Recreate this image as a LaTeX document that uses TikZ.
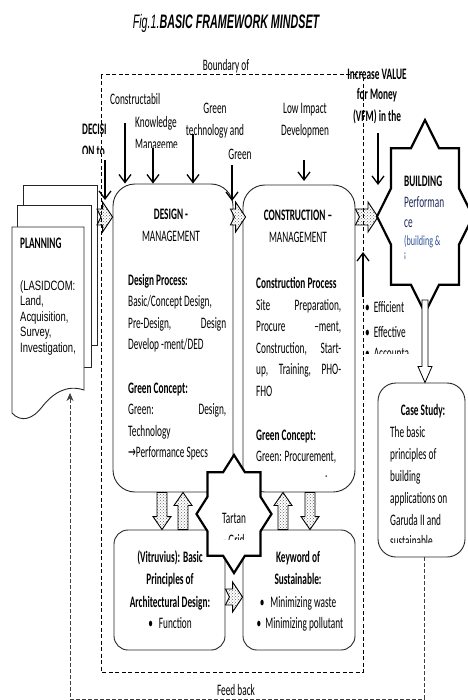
\documentclass[tikz,border=0pt]{standalone}
\usepackage{fontspec}
\setmainfont{Carlito}[FakeStretch=0.58]
\newfontfamily\titlefont{Liberation Sans}[FakeStretch=0.55]
\newfontfamily\planfont{Liberation Sans}[FakeStretch=0.7]
\newfontfamily\arrfont{DejaVu Sans}[FakeStretch=0.58]
\usetikzlibrary{arrows.meta,patterns,calc}
\definecolor{navy}{HTML}{1F2A5C}
\definecolor{blu}{HTML}{2F5597}

\newcommand\hchev[2]{%
 \path[chev] let \p1=(#1), \p2=(#2) in
 (\x1,\y1+8pt) -- (\x2-10pt,\y1+8pt) -- (\x2-10pt,\y1+15pt) -- (\x2,\y1)
 -- (\x2-10pt,\y1-15pt) -- (\x2-10pt,\y1-8pt) -- (\x1,\y1-8pt) -- (\x1+4pt,\y1) -- cycle;}
\newcommand\vchev[2]{%
 \path[chev] let \p1=(#1), \p2=(#2), \n1={(\y2>\y1)?1:-1} in
 (\x1-5pt,\y1) -- (\x1-5pt,\y2-\n1*13pt) -- (\x1-9pt,\y2-\n1*13pt) -- (\x1,\y2)
 -- (\x1+9pt,\y2-\n1*13pt) -- (\x1+5pt,\y2-\n1*13pt) -- (\x1+5pt,\y1) -- cycle;}
\newcommand\octastar[4]{%
 \begin{scope}[shift={(#1,#2)}, xscale=#3, yscale=#4]
 \path[starline] (0:1) \foreach \k in {1,...,15}{ -- ({22.5*\k}:{1-0.235*mod(\k,2)})} -- cycle;
 \end{scope}}

\begin{document}
\begin{tikzpicture}[x=1pt,y=-1pt,
  txt/.style={font=\fontsize{16}{21.5}\selectfont, inner sep=0pt, text=black},
  lbl/.style={txt, anchor=base west},
  lblc/.style={txt, anchor=base},
  plan/.style={font=\planfont\fontsize{13.5}{16}\selectfont, inner sep=0pt, anchor=base west},
  box/.style={draw=black!85, line width=0.9pt, fill=white, rounded corners=22pt, inner sep=0pt},
  sbox/.style={box, rounded corners=14pt},
  sheet/.style={draw=black!85, line width=0.9pt, fill=white},
  inarrow/.style={line width=1.3pt, -{Straight Barb[length=8pt,width=12pt,line width=1.3pt]}},
  chev/.style={draw=black, line width=0.9pt, preaction={fill=white}, pattern=crosshatch dots, pattern color=black!60},
  starline/.style={draw=black, line width=2.2pt, fill=white, line join=miter},
  bound/.style={dash pattern=on 4pt off 2.5pt, line width=1pt},
  fb/.style={dash pattern=on 4pt off 2pt, line width=0.8pt, black!75},
  hollow/.style={draw=black, line width=0.8pt, fill=white}]
\useasboundingbox[fill=white] (0,0) rectangle (467,700);

% title
\node[inner sep=0pt, anchor=base, font=\titlefont\fontsize{19.5}{22}\selectfont] (title) at (226,29)
  {\itshape Fig.1.\bfseries BASIC FRAMEWORK MINDSET};

% feedback loop
\coordinate (fbR) at (424,699);
\coordinate (fbL) at (70,699);
\coordinate (plB) at (70,393);

% planning sheets
\draw[sheet] (23,185) rectangle (97,345);
\draw[sheet] (17,205) rectangle (91,367);
\draw[sheet] (12,227) -- (84,227) -- (84,390) .. controls (66,384) and (52,394) .. (42,407)
  .. controls (33,419) and (21,423) .. (12,413) -- cycle;

% boxes
\node[box, minimum width=120, minimum height=308] (design) at (173,338) {};
\node[box, minimum width=112, minimum height=307] (cons) at (299,338.5) {};
\node[sbox, minimum width=111, minimum height=120] (vitr) at (169.5,590) {};
\node[sbox, minimum width=112, minimum height=120] (key) at (299,590) {};
\node[box, rounded corners=18pt, minimum width=87, minimum height=174] (case) at (421.5,470) {};

\draw[fb, -{Stealth[length=8pt,width=7pt]}] (fbR |- case.south) -- (fbR) -- (fbL) -- (plB);

% input arrows
\coordinate (a1) at (125,123);
\coordinate (a2) at (153,148);
\coordinate (a3) at (193,134);
\coordinate (a4) at (232,165); \coordinate (a4e) at (232,201);
\coordinate (a5) at (304,160); \coordinate (a5e) at (304,181);
\coordinate (a6) at (105,160); \coordinate (a6e) at (105,200);
\coordinate (a7) at (378,133); \coordinate (a7e) at (378,185);
\coordinate (a8) at (363,297); \coordinate (a8e) at (363,252);
\draw[inarrow] (a1) -- (a1 |- design.north);
\draw[inarrow] (a2) -- (a2 |- design.north);
\draw[inarrow] (a3) -- (a3 |- design.north);
\draw[inarrow] (a4) -- (a4e);
\draw[inarrow] (a5) -- (a5e);
\draw[inarrow] (a6) -- (a6e);
\draw[inarrow] (a7) -- (a7e);
\draw[inarrow] (a8) -- (a8e);

% chevrons
\coordinate (r1) at (97,217);
\coordinate (r2) at (355,217);
\coordinate (r3) at (225,597);
\coordinate (bL) at (378,217);
\hchev{r1}{design.west |- r1}
\hchev{[xshift=-3pt]design.east |- r1}{[xshift=3pt]cons.west |- r1}
\hchev{cons.east |- r2}{bL}
\hchev{vitr.east |- r3}{key.west |- r3}
\coordinate (v1) at (162,0); \coordinate (v2) at (183,0);
\coordinate (v3) at (283,0); \coordinate (v4) at (310,0);
\vchev{design.south -| v1}{vitr.north -| v1}
\vchev{vitr.north -| v2}{design.south -| v2}
\vchev{key.north -| v3}{cons.south -| v3}
\vchev{cons.south -| v4}{key.north -| v4}

% stars
\octastar{234}{514}{37.5}{59}
\octastar{425}{216.5}{48}{96.5}

% building -> case study hollow arrow
\coordinate (bS) at (425,300);
\path[hollow] let \p1=(bS), \p2=(bS |- case.north) in
  (\x1-3pt,\y1) -- (\x1-3pt,\y2+16pt) -- (\x1-7pt,\y2+16pt) -- (\x1,\y2)
  -- (\x1+7pt,\y2+16pt) -- (\x1+3pt,\y2+16pt) -- (\x1+3pt,\y1) -- cycle;

% boundary
\draw[bound] (101,75) rectangle (363,672);

% header labels
\node[lblc] (lbound) at (226,71) {Boundary of};
\node[lblc] (linc1) at (377,80) {\bfseries Increase VALUE};
\node[lblc] (linc2) at (377,100) {\bfseries for Money};
\node[lblc] (linc3) at (377,122) {\bfseries (VFM) in the};
\node[lbl] (lconst) at (110,105) {Constructabil};
\node[lbl] (lknow) at (135,128) {Knowledge};
\begin{scope}
\clip (130,135) rectangle (200,147.5);
\node[lbl] (lmgmt) at (135,150) {Manageme};
\end{scope}
\node[lblc] (lgreen1) at (215,114) {Green};
\node[lblc] (lgtech) at (215,136) {technology and};
\node[lblc] (lgreen2) at (240,160) {Green};
\node[lblc] (llow) at (305,114) {Low Impact};
\node[lblc] (ldev) at (305,136) {Developmen};
\node[lbl] (ldec1) at (82,135) {\bfseries DECISI};
\begin{scope}
\clip (78,140) rectangle (115,153.5);
\node[lbl] (ldec2) at (82,157) {\bfseries ON to};
\end{scope}

% planning text
\node[lbl] (pl0) at (20,248) {\bfseries PLANNING};
\node[plan] (pl1) at (20,290) {(LASIDCOM:};
\node[plan] (pl2) at (20,305.5) {Land,};
\node[plan] (pl3) at (20,321) {Acquisition,};
\node[plan] (pl4) at (20,336.5) {Survey,};
\node[plan] (pl5) at (20,352) {Investigation,};

% design text
\node[lblc] (dh1) at (171,220) {\bfseries DESIGN -};
\node[lblc] (dh2) at (171,242) {MANAGEMENT};
\node[lbl] (d1) at (128,285) {\bfseries Design Process:};
\node[lbl] (d2) at (128,306.5) {Basic/Concept Design,};
\node[lbl] (d3) at (128,328) {\makebox[98pt][s]{Pre-Design, Design}};
\node[lbl] (d4) at (128,349.5) {Develop -ment/DED};
\node[lbl] (d5) at (128,393) {\bfseries Green Concept:};
\node[lbl] (d6) at (128,414.5) {\makebox[98pt][s]{Green: Design,}};
\node[lbl] (d7) at (128,436) {Technology};
\node[lbl] (d8) at (128,457.5) {{\arrfont →}Performance Specs};

% construction text
\node[lblc] (ch1) at (298,221) {\bfseries CONSTRUCTION –};
\node[lblc] (ch2) at (298,243) {MANAGEMENT};
\node[lbl] (c1) at (256,288) {\bfseries Construction Process};
\node[lbl] (c2) at (256,310) {\makebox[85pt][s]{Site Preparation,}};
\node[lbl] (c3) at (256,331.5) {\makebox[85pt][s]{Procure –ment,}};
\node[lbl] (c4) at (256,353) {\makebox[85pt][s]{Construction, Start-}};
\node[lbl] (c5) at (256,374.5) {\makebox[85pt][s]{up, Training, PHO-}};
\node[lbl] (c6) at (256,396) {FHO};
\node[lbl] (c7) at (256,440) {\bfseries Green Concept:};
\node[lbl] (c8) at (256,461.5) {Green: Procurement,};
\node[lbl] (c9) at (325,477) {.};

% lower boxes text
\node[lblc] (vt1) at (170,562) {\bfseries (Vitruvius): Basic};
\node[lblc] (vt2) at (170,584) {\bfseries Principles of};
\node[lblc] (vt3) at (170,607) {\bfseries Architectural Design:};
\node[lblc] (vt4) at (170,628) {•\hspace{6pt}Function};
\node[lblc] (kt1) at (298,562) {\bfseries Keyword of};
\node[lblc] (kt2) at (298,584) {\bfseries Sustainable:};
\node[lblc] (kt3) at (298,607) {•\hspace{6pt}Minimizing waste};
\node[lblc] (kt4) at (300,628) {•\hspace{4pt}Minimizing pollutant};

% tartan text
\node[lblc] (tt1) at (234,523) {Tartan};
\begin{scope}
\clip (200,528) rectangle (270,539);
\node[lblc] (tt2) at (234,545) {- Grid};
\end{scope}

% building text
\node[lbl] (bt1) at (404,187) {\bfseries BUILDING};
\node[lbl, text=navy] (bt2) at (404,208) {Performan};
\node[lbl, text=navy] (bt3) at (404,228) {ce};
\node[lbl, text=blu, font=\fontsize{14}{16}\selectfont] (bt4) at (404,246) {(building \&};
\begin{scope}
\clip (400,250) rectangle (420,258.5);
\node[lbl, text=blu, font=\fontsize{14}{16}\selectfont] (bt5) at (404,262) {i};
\end{scope}

% bullets
\node[lbl] (e1) at (365,312) {•\hspace{4pt}Efficient};
\node[lbl] (e2) at (365,337) {•\hspace{4pt}Effective};
\begin{scope}
\clip (360,342) rectangle (420,353);
\node[lbl] (e3) at (365,358) {•\hspace{4pt}Accounta};
\end{scope}

% case study text
\node[lblc] (cs0) at (423,415) {\bfseries Case Study:};
\node[lbl] (cs1) at (390,437) {The basic};
\node[lbl] (cs2) at (390,459) {principles of};
\node[lbl] (cs3) at (390,481) {building};
\node[lbl] (cs4) at (390,503) {applications on};
\node[lbl] (cs5) at (390,525) {Garuda II and};
\begin{scope}
\clip (385,530) rectangle (460,542);
\node[lbl] (cs6) at (390,546) {sustainable};
\end{scope}

\node[lblc] (lfb) at (236,695) {Feed back};
\end{tikzpicture}
\end{document}
